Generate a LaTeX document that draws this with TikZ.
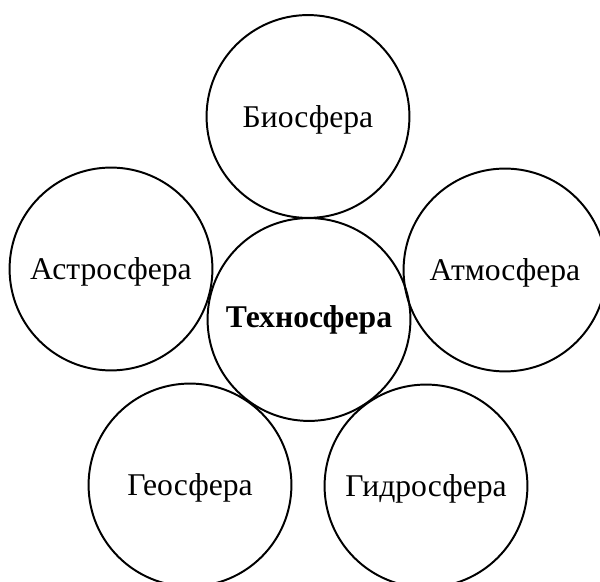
\documentclass[tikz,border=0pt]{standalone}
\usepackage{fontspec}
\setmainfont{Liberation Serif}
\usepackage{tikz}

\tikzset{
  sphere/.style={draw, circle, line width=1.4pt, minimum size=5.07cm, inner sep=0pt,
    text depth=0pt, font=\fontsize{22.5}{26}\selectfont},
  core/.style={draw, circle, line width=1.4pt, minimum size=5.07cm, inner sep=0pt,
    font=\fontsize{22.5}{26}\selectfont\bfseries}
}

\begin{document}
\begin{tikzpicture}[x=0.025cm, y=-0.025cm]
    % ---------------- frame, pixel units from the top left corner
    \useasboundingbox (0,0) rectangle (600,582);
    \clip (0,0) rectangle (600,582);
    % ---------------- centre
    \node[core] (techno) at (309,319.5) {Техносфера};
    % ---------------- outer spheres
    \node[sphere] (bio)   at (308,116.5) {Биосфера};
    \node[sphere] (astro) at (111,269) {Астросфера};
    \node[sphere] (atmo)  at (505,270) {Атмосфера};
    \node[sphere] (geo)   at (190,485) {Геосфера};
    \node[sphere] (hydro) at (426,486) {Гидросфера};
  \end{tikzpicture}
\end{document}
